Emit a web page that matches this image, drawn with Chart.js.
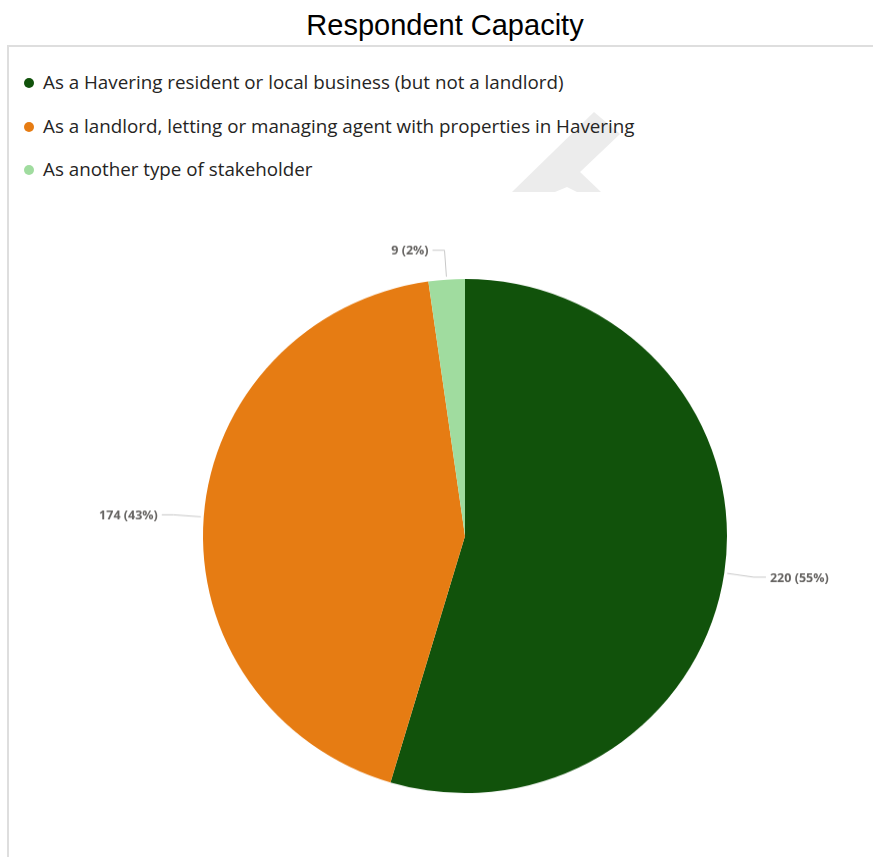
<!DOCTYPE html>
<html>
<head>
<meta charset="utf-8">
<title>Respondent Capacity</title>
<script src="https://cdn.jsdelivr.net/npm/chart.js@4.4.1/dist/chart.umd.min.js"></script>
<style>
    html, body {
        margin: 0;
        padding: 0;
        background: #fff;
        width: 873px;
        height: 857px;
        overflow: hidden;
        position: relative;
    }
    #title {
        position: absolute;
        left: 17px;
        top: 6px;
        width: 856px;
        text-align: center;
        font-family: "Liberation Sans", Arial, sans-serif;
        font-size: 29px;
        line-height: 38px;
        color: #000;
    }
    #frame {
        position: absolute;
        left: 7px;
        top: 45px;
        right: 0;
        bottom: 0;
        border-left: 2px solid #dedede;
        border-top: 2px solid #dedede;
    }
    #mark {
        position: absolute;
        left: 0;
        top: 0;
    }
    #legend {
        position: absolute;
        left: 0;
        top: 0;
        font-family: "Open Sans", "Noto Sans", sans-serif;
        font-size: 18.8px;
        color: #252423;
    }
    .item {
        position: absolute;
        left: 24px;
        height: 26px;
        line-height: 26px;
        white-space: nowrap;
    }
    .dot {
        display: inline-block;
        width: 10px;
        height: 10px;
        border-radius: 50%;
        margin-right: 9px;
        vertical-align: 1px;
    }
    #chartWrap {
        position: absolute;
        left: 9px;
        top: 200px;
        width: 864px;
        height: 657px;
        transform-origin: 456px 336px;
        transform: scaleY(0.981);
    }
</style>
</head>
<body>
<div id="title">Respondent Capacity</div>
<div id="frame"></div>
<svg id="mark" width="873" height="200">
    <polygon points="512,192 555,192 567,187 577,192 601,192 580,172 620,134 594,112" fill="#ececec"/>
</svg>
<div id="legend"></div>
<div id="chartWrap"><canvas id="pieChart"></canvas></div>

<script>
const categories = [
    'As a Havering resident or local business (but not a landlord)',
    'As a landlord, letting or managing agent with properties in Havering',
    'As another type of stakeholder'
];
const responses = [220, 174, 9];
const sliceColors = ['#11520b', '#e67c13', '#a0dc9f'];

const total = responses.reduce((a, b) => a + b, 0);

// legend rows above the chart
const legendEl = document.getElementById('legend');
const legendTops = [69, 113, 156];
categories.forEach((name, i) => {
    const row = document.createElement('div');
    row.className = 'item';
    row.style.top = legendTops[i] + 'px';
    const dot = document.createElement('span');
    dot.className = 'dot';
    dot.style.background = sliceColors[i];
    row.appendChild(dot);
    row.appendChild(document.createTextNode(name));
    legendEl.appendChild(row);
});

// value labels outside the pie with leader lines
const leaderLabels = {
    id: 'leaderLabels',
    afterDatasetsDraw(chart) {
        const ctx = chart.ctx;
        const meta = chart.getDatasetMeta(0);
        ctx.save();
        ctx.font = 'bold 12.5px "Open Sans", "Noto Sans", sans-serif';
        ctx.textBaseline = 'middle';
        meta.data.forEach((arc, i) => {
            const p = arc.getProps(['x', 'y', 'startAngle', 'endAngle', 'outerRadius'], true);
            const mid = (p.startAngle + p.endAngle) / 2;
            const cos = Math.cos(mid), sin = Math.sin(mid);
            const x0 = p.x + cos * (p.outerRadius + 3);
            const y0 = p.y + sin * (p.outerRadius + 3);
            const x1 = p.x + cos * (p.outerRadius + 30);
            const y1 = p.y + sin * (p.outerRadius + 30);
            const dir = cos >= 0 ? 1 : -1;
            const x2 = x1 + dir * 12;
            ctx.strokeStyle = '#c8c8c8';
            ctx.lineWidth = 1;
            ctx.beginPath();
            ctx.moveTo(x0, y0);
            ctx.lineTo(x1, y1);
            ctx.lineTo(x2, y1);
            ctx.stroke();
            const v = responses[i];
            const pct = Math.round(v / total * 100);
            ctx.fillStyle = '#666462';
            ctx.textAlign = dir > 0 ? 'left' : 'right';
            ctx.fillText(v + ' (' + pct + '%)', x2 + dir * 4, y1 + 1);
        });
        ctx.restore();
    }
};

const ctx = document.getElementById('pieChart').getContext('2d');
const chart = new Chart(ctx, {
    type: 'pie',
    data: {
        labels: categories,
        datasets: [{
            data: responses,
            backgroundColor: sliceColors,
            borderWidth: 0
        }]
    },
    options: {
        responsive: true,
        maintainAspectRatio: false,
        animation: false,
        layout: {
            padding: { left: 194, right: 146, top: 74, bottom: 59 }
        },
        plugins: {
            legend: { display: false },
            tooltip: { enabled: false }
        }
    },
    plugins: [leaderLabels]
});
</script>
</body>
</html>
